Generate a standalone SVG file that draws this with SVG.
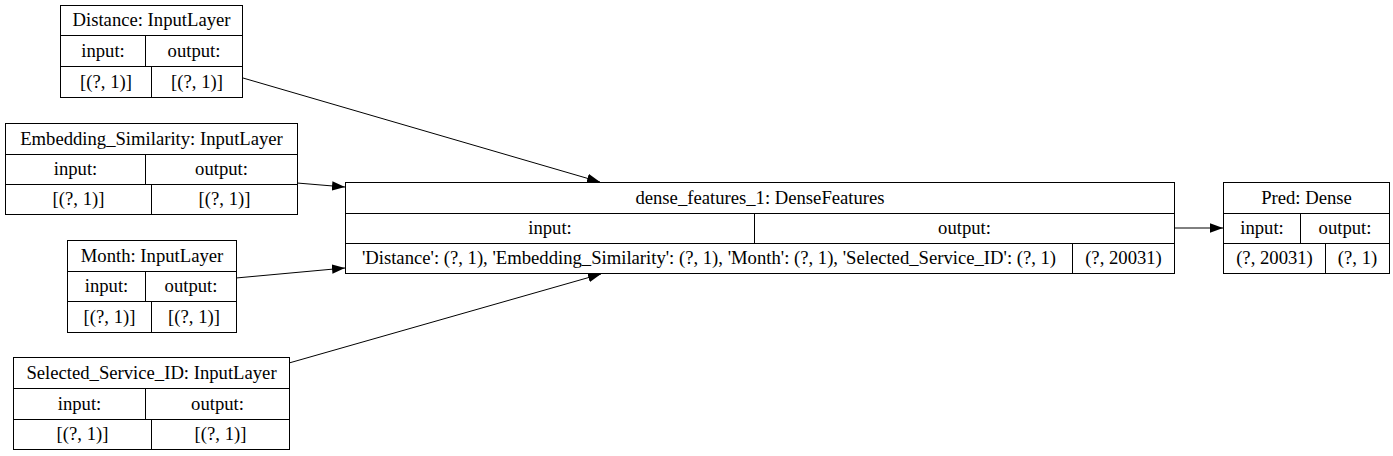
<svg xmlns="http://www.w3.org/2000/svg" width="1393" height="456" viewBox="0 0 1393 456">
<style>
.b{fill:none;stroke:#000;stroke-width:1}
.t{font-family:"Liberation Serif","Times New Roman",serif;font-size:18.67px;text-anchor:middle;fill:#000}
.e{fill:none;stroke:#000;stroke-width:1}
</style>
<defs>
<marker id="ah" markerUnits="userSpaceOnUse" markerWidth="14" markerHeight="10" refX="13" refY="5" orient="auto" viewBox="0 0 14 10">
<path d="M0,0.3 L13,5 L0,9.7 Z" fill="#000"/>
</marker>
</defs>
<rect width="1393" height="456" fill="#fff"/>
<g id="connectors">
<path class="e" d="M243,78 L600,182" marker-end="url(#ah)"/>
<path class="e" d="M297,183 L345,187" marker-end="url(#ah)"/>
<path class="e" d="M236,278 L345,268" marker-end="url(#ah)"/>
<path class="e" d="M289,363 L601,274" marker-end="url(#ah)"/>
<path class="e" d="M1174.5,228 L1223,228" marker-end="url(#ah)"/>
</g>
<g id="distance">
<rect class="b" x="60.5" y="5.5" width="182" height="92"/>
<path class="b" d="M60.5,35.5H242.5M60.5,66.5H242.5M145.5,35.5V66.5M151.5,66.5V97.5"/>
<text class="t" x="151.5" y="26">Distance: InputLayer</text>
<text class="t" x="103" y="57">input:</text>
<text class="t" x="194" y="57">output:</text>
<text class="t" x="106" y="88">[(?, 1)]</text>
<text class="t" x="197" y="88">[(?, 1)]</text>
</g>
<g id="embedding">
<rect class="b" x="5.5" y="123.5" width="292" height="91"/>
<path class="b" d="M5.5,154.5H297.5M5.5,184.5H297.5M145.5,154.5V184.5M151.5,184.5V214.5"/>
<text class="t" x="151.5" y="145">Embedding_Similarity: InputLayer</text>
<text class="t" x="75.5" y="175">input:</text>
<text class="t" x="221.5" y="175">output:</text>
<text class="t" x="78.5" y="205">[(?, 1)]</text>
<text class="t" x="224.5" y="205">[(?, 1)]</text>
</g>
<g id="month">
<rect class="b" x="67.5" y="240.5" width="169" height="92"/>
<path class="b" d="M67.5,271.5H236.5M67.5,301.5H236.5M145.5,271.5V301.5M151.5,301.5V332.5"/>
<text class="t" x="152" y="262">Month: InputLayer</text>
<text class="t" x="106.5" y="292">input:</text>
<text class="t" x="191" y="292">output:</text>
<text class="t" x="109.5" y="323">[(?, 1)]</text>
<text class="t" x="194" y="323">[(?, 1)]</text>
</g>
<g id="selected">
<rect class="b" x="13.5" y="357.5" width="276" height="92"/>
<path class="b" d="M13.5,388.5H289.5M13.5,419.5H289.5M145.5,388.5V419.5M151.5,419.5V449.5"/>
<text class="t" x="151.5" y="379">Selected_Service_ID: InputLayer</text>
<text class="t" x="79.5" y="410">input:</text>
<text class="t" x="217.5" y="410">output:</text>
<text class="t" x="82.5" y="440">[(?, 1)]</text>
<text class="t" x="220.5" y="440">[(?, 1)]</text>
</g>
<g id="dense_features">
<rect class="b" x="345.5" y="182.5" width="829" height="91"/>
<path class="b" d="M345.5,213.5H1174.5M345.5,243.5H1174.5M754.5,213.5V243.5M1072.5,243.5V273.5"/>
<text class="t" x="760" y="204">dense_features_1: DenseFeatures</text>
<text class="t" x="550" y="234">input:</text>
<text class="t" x="964.5" y="234">output:</text>
<text class="t" x="709" y="264">'Distance': (?, 1), 'Embedding_Similarity': (?, 1), 'Month': (?, 1), 'Selected_Service_ID': (?, 1)</text>
<text class="t" x="1123.5" y="264">(?, 20031)</text>
</g>
<g id="pred">
<rect class="b" x="1223.5" y="182.5" width="166" height="91"/>
<path class="b" d="M1223.5,213.5H1389.5M1223.5,243.5H1389.5M1300.5,213.5V243.5M1325.5,243.5V273.5"/>
<text class="t" x="1306.5" y="204">Pred: Dense</text>
<text class="t" x="1262" y="234">input:</text>
<text class="t" x="1345" y="234">output:</text>
<text class="t" x="1274.5" y="264">(?, 20031)</text>
<text class="t" x="1357.5" y="264">(?, 1)</text>
</g>
</svg>
